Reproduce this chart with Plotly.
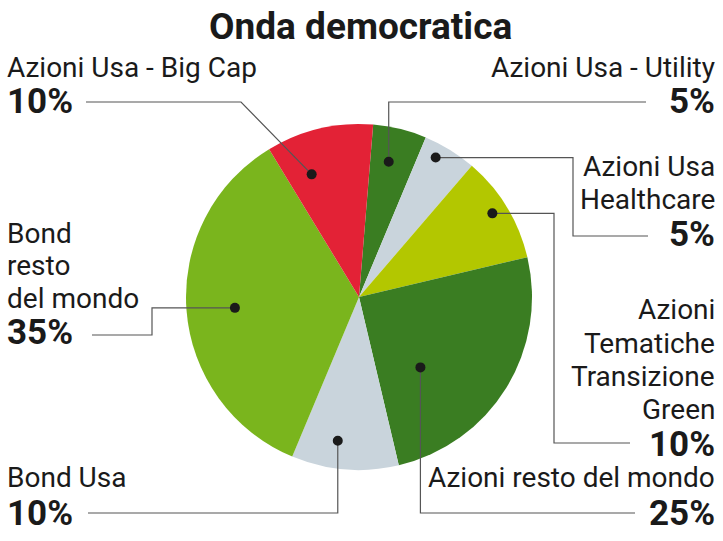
import math
import plotly.graph_objects as go

W, H = 723, 541

# ---- data ----
labels = ["Azioni Usa - Utility", "Azioni Usa Healthcare", "Azioni Tematiche Transizione Green",
          "Azioni resto del mondo", "Bond Usa", "Bond resto del mondo", "Azioni Usa - Big Cap"]
values = [5, 5, 10, 25, 10, 35, 10]
pct_labels = ["5%", "5%", "10%", "25%", "10%", "35%", "10%"]
colors = ["#3a7d22", "#c9d4dc", "#b3c700", "#3a7d22", "#c9d4dc", "#7ab51d", "#e32236"]
title = "Onda democratica"

# ---- layout geometry (pixels) ----
CX, CY, R = 359, 297, 173
ROT = 4.7  # degrees clockwise from 12 o'clock where first slice begins

# dot placement inside each slice: (angle offset from slice mid, radius fraction)
dot_place = [(-1.3, 0.80), (-2.9, 0.92), (-0.8, 0.91), (17.2, 0.54),
             (3.7, 0.84), (-0.7, 0.72), (-7.8, 0.76)]

# leader line waypoints after the dot
leader_pts = [
    [(None, 102), (646, 102)],                      # Utility
    [(573, None), (573, 236), (648, 236)],          # Healthcare
    [(554, None), (554, 443), (630, 443)],          # Tematiche
    [(None, 513), (635, 513)],                      # Azioni resto
    [(None, 513), (88, 513)],                       # Bond Usa
    [(152, None), (152, 335), (92, 335)],           # Bond resto
    [(241, 102), (86, 102)],                        # Big Cap
]

# label text lines: (text, baseline y, bold?)
label_blocks = [
    ("right", [("Azioni Usa - Utility", 78, False), (pct_labels[0], 114, True)]),
    ("right", [("Azioni Usa", 177, False), ("Healthcare", 210, False), (pct_labels[1], 247, True)]),
    ("right", [("Azioni", 320, False), ("Tematiche", 354, False), ("Transizione", 387, False),
               ("Green", 420, False), (pct_labels[2], 457, True)]),
    ("right", [("Azioni resto del mondo", 488, False), (pct_labels[3], 526, True)]),
    ("left", [("Bond Usa", 488, False), (pct_labels[4], 526, True)]),
    ("left", [("Bond", 244, False), ("resto", 276, False), ("del mondo", 309, False), (pct_labels[5], 345, True)]),
    ("left", [("Azioni Usa - Big Cap", 78, False), (pct_labels[6], 114, True)]),
]

FONT = "Roboto, Liberation Sans, sans-serif"
FS_REG, FS_BOLD, FS_TITLE = 28, 35, 37
ASC, DESC = 0.927, 0.244
TEXT_COLOR = "#1a1a1a"
LINE_COLOR = "#555555"
DOT_R = 5

fig = go.Figure()

fig.add_trace(go.Pie(
    labels=labels, values=values, sort=False, direction="clockwise", rotation=ROT,
    marker=dict(colors=colors, line=dict(width=0)), textinfo="none", hoverinfo="none",
    showlegend=False,
    domain=dict(x=[(CX - R) / W, (CX + R) / W], y=[(H - CY - R) / H, (H - CY + R) / H]),
))
# invisible trace to activate the pixel-space cartesian axes
fig.add_trace(go.Scatter(x=[0, W], y=[0, H], mode="markers", marker=dict(opacity=0),
                         hoverinfo="skip", showlegend=False))

shapes = []
total = sum(values)
cum = 0
for i, v in enumerate(values):
    start = ROT + 360 * cum / total
    mid = start + 180 * v / total
    cum += v
    off, rf = dot_place[i]
    a = math.radians(mid + off)
    dx = CX + rf * R * math.sin(a)
    dy = CY - rf * R * math.cos(a)
    pts = [(dx, dy)]
    px, py = dx, dy
    for (wx, wy) in leader_pts[i]:
        nx = px if wx is None else wx
        ny = py if wy is None else wy
        pts.append((nx, ny))
        px, py = nx, ny
    path = "M " + " L ".join(f"{x:.2f},{y:.2f}" for x, y in pts)
    shapes.append(dict(type="path", path=path, xref="x", yref="y", layer="above",
                       line=dict(color=LINE_COLOR, width=1.2)))
    shapes.append(dict(type="circle", xref="x", yref="y", layer="above",
                       x0=dx - DOT_R, x1=dx + DOT_R, y0=dy - DOT_R, y1=dy + DOT_R,
                       fillcolor=TEXT_COLOR, line=dict(width=0)))

annotations = []
for side, lines in label_blocks:
    for text, base, bold in lines:
        fs = FS_BOLD if bold else FS_REG
        annotations.append(dict(
            x=717 if side == "right" else 5, y=base + DESC * fs + 1,
            xref="x", yref="y", xanchor=side, yanchor="bottom",
            text=f"<b>{text}</b>" if bold else text, showarrow=False,
            font=dict(family=FONT, size=fs, color=TEXT_COLOR), align=side,
        ))
annotations.append(dict(
    x=360, y=40 + DESC * FS_TITLE + 1, xref="x", yref="y", xanchor="center", yanchor="bottom",
    text=f"<b>{title}</b>", showarrow=False,
    font=dict(family=FONT, size=FS_TITLE, color=TEXT_COLOR, weight=900),
))

fig.update_layout(
    width=W, height=H, margin=dict(l=0, r=0, t=0, b=0),
    paper_bgcolor="white", plot_bgcolor="rgba(0,0,0,0)",
    xaxis=dict(range=[0, W], visible=False, domain=[0, 1], fixedrange=True),
    yaxis=dict(range=[H, 0], visible=False, domain=[0, 1], fixedrange=True),
    annotations=annotations, shapes=shapes,
)

fig.write_html("out.html", config={"displayModeBar": False},
               post_script="document.body.style.margin='0px';")
